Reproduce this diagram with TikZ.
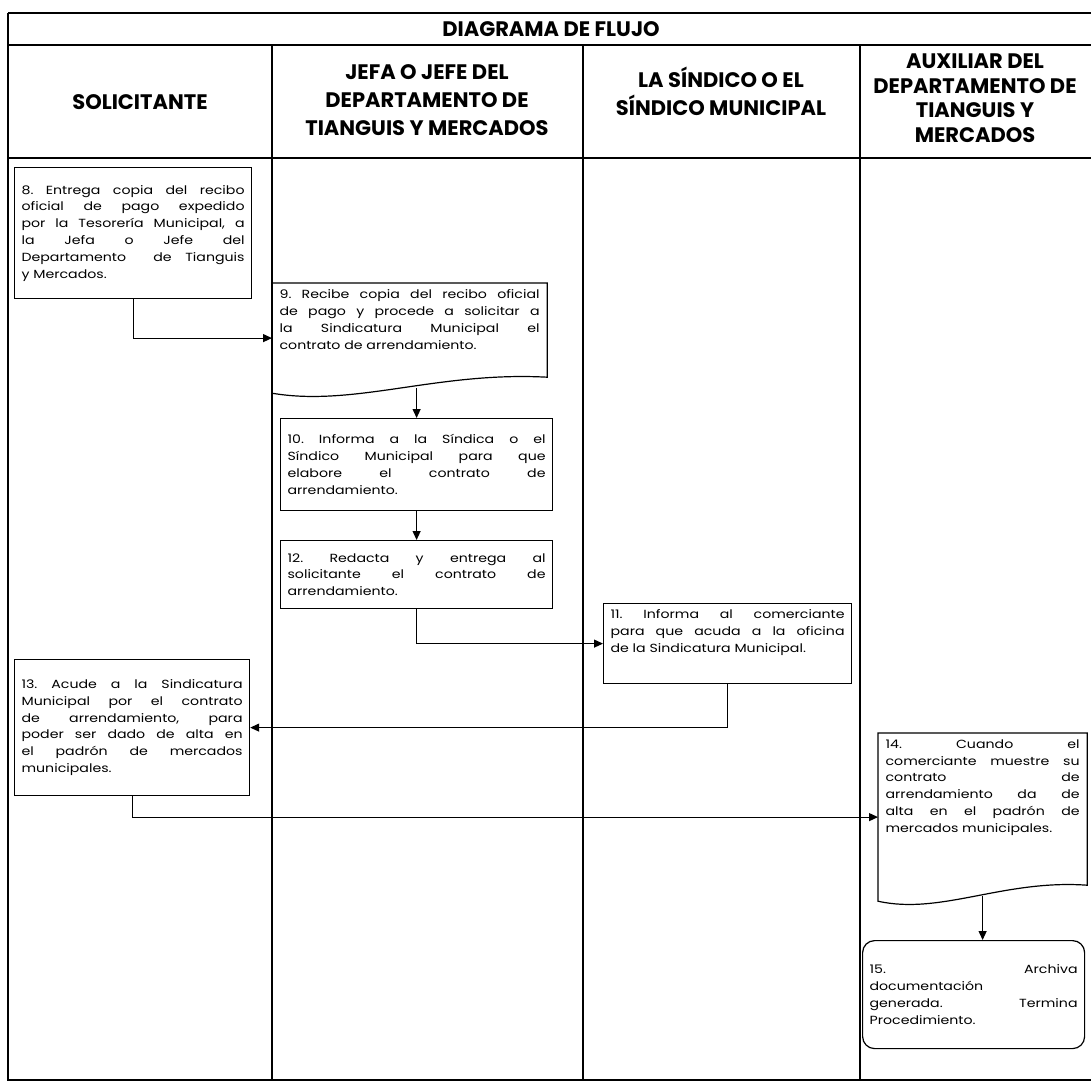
\documentclass[tikz,border=0pt]{standalone}
\usepackage{fontspec}
\setmainfont{Poppins}[FakeStretch=1.2]
\newfontfamily\hdrfont{Poppins}
\usetikzlibrary{arrows.meta,positioning,calc}
\newcommand{\jl}[1]{\makebox[\hsize][s]{#1}}
\newcommand{\toptxt}[3]{\parbox[c][#1][t]{#2}{#3}}
\newcommand{\midtxt}[2]{\parbox{#1}{#2}}
\frenchspacing

\begin{document}
\begin{tikzpicture}[x=1pt, y=-1pt,
    frame/.style={line width=1.6pt},
    lane/.style={line width=1.2pt},
    hdr/.style={font=\hdrfont\fontsize{21}{28}\selectfont\bfseries, align=center},
    box/.style={draw, line width=1.2pt, anchor=north west, inner xsep=7pt, inner ysep=6pt, font=\fontsize{11.8}{16.8}\selectfont},
    docbox/.style={box, draw=none},
    flow/.style={line width=1.2pt, -{Triangle[length=9pt, width=8pt]}},
]
\useasboundingbox (0,0) rectangle (1091,1086);

% frame and lanes
\draw[frame] (8,13) -- (1100,13);
\draw[frame] (8,45) -- (1100,45);
\draw[frame] (8,158) -- (1100,158);
\draw[frame] (8,13) -- (8,1080) -- (1100,1080);
\foreach \x in {272,583,860}
  \draw[lane] (\x,45) -- (\x,1080);

\node[hdr] (title) at (551,29) {DIAGRAMA DE FLUJO};
\node[hdr] (hsol) at (140,102) {SOLICITANTE};
\node[hdr] (hjefe) at (427,100) {JEFA O JEFE DEL\\DEPARTAMENTO DE\\TIANGUIS Y MERCADOS};
\node[hdr] (hsind) at (721,91) {LA SÍNDICO O EL\\SÍNDICO MUNICIPAL};
\node[hdr, font=\hdrfont\fontsize{21}{24.5}\selectfont\bfseries] (haux) at (975,98) {AUXILIAR DEL\\DEPARTAMENTO DE\\TIANGUIS Y\\MERCADOS};

% steps
\node[box, minimum height=131pt] (b8) at (14,167)
  {\midtxt{223pt}{\jl{8. Entrega copia del recibo}\\\jl{oficial de pago expedido}\\\jl{por la Tesorería Municipal, a}\\\jl{la Jefa o Jefe del}\\\jl{Departamento \ de Tianguis}\\y Mercados.}};
\node[docbox] (b9) at (272,283)
  {\toptxt{97pt}{260pt}{\jl{9. Recibe copia del recibo oficial}\\\jl{de pago y procede a solicitar a}\\\jl{la Sindicatura Municipal el}\\contrato de arrendamiento.}};
\draw[line width=1.2pt] (b9.north west) -- (b9.north east) -- ($(b9.south east)+(0,-16)$)
  .. controls ($(b9.south west)!0.6!(b9.south east)+(0,-22)$) and ($(b9.south west)!0.3!(b9.south east)+(0,14)$) .. (b9.south west) -- cycle;
\node[box, minimum height=92pt] (b10) at (280,418)
  {\midtxt{258pt}{\jl{10. Informa a la Síndica o el}\\\jl{Síndico Municipal para que}\\\jl{elabore el contrato de}\\arrendamiento.}};
\node[box, minimum height=68pt] (b12) at (280,540)
  {\midtxt{258pt}{\jl{12. Redacta y entrega al}\\\jl{solicitante el contrato de}\\arrendamiento.}};
\node[box] (b11) at (603,603)
  {\toptxt{68pt}{234pt}{\jl{11. Informa al comerciante}\\\jl{para que acuda a la oficina}\\de la Sindicatura Municipal.}};
\node[box, minimum height=136pt] (b13) at (14,659)
  {\midtxt{221pt}{\jl{13. Acude a la Sindicatura}\\\jl{Municipal por el contrato}\\\jl{de arrendamiento, para}\\\jl{poder ser dado de alta en}\\\jl{el padrón de mercados}\\municipales.}};
\node[docbox] (b14) at (878,733)
  {\toptxt{155pt}{194pt}{\jl{14. Cuando el}\\\jl{comerciante muestre su}\\\jl{contrato de}\\\jl{arrendamiento da de}\\\jl{alta en el padrón de}\\mercados municipales.}};
\draw[line width=1.2pt] (b14.north west) -- (b14.north east) -- ($(b14.south east)+(0,-16)$)
  .. controls ($(b14.south west)!0.6!(b14.south east)+(0,-22)$) and ($(b14.south west)!0.3!(b14.south east)+(0,14)$) .. (b14.south west) -- cycle;
\node[box, rounded corners=12pt, minimum height=108pt] (b15) at (862,940)
  {\midtxt{208pt}{\jl{15. Archiva}\\documentación\\\jl{generada. Termina}\\Procedimiento.}};

% connectors
\draw[flow] (b8.south) |- (b9.west);
\draw[flow] ($(b10.north|-b9.south)+(0,-5)$) -- (b10.north);
\draw[flow] (b10.south) -- (b12.north);
\draw[flow] (b12.south) |- (b11.west);
\draw[flow] (b11.south) |- (b13.east);
\draw[flow] (b13.south) |- (b14.west);
\draw[flow] ($(b14.south)+(0,-5)$) -- (b14.south|-b15.north);
\end{tikzpicture}
\end{document}
